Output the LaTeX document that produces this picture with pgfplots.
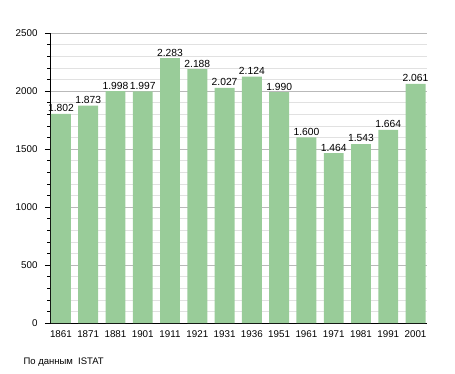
\documentclass[border=0pt]{standalone}
\usepackage{pgfplots}
\pgfplotsset{compat=1.18}
\usepackage{fontspec}
\setmainfont{Liberation Sans}
\definecolor{bargreen}{RGB}{153,204,153}
\definecolor{majgrid}{RGB}{185,185,185}
\definecolor{mingrid}{RGB}{225,225,225}
\begin{document}
\begin{tikzpicture}
\useasboundingbox (-50pt,-50pt) rectangle (405pt,323pt);
\begin{axis}[
  scale only axis,
  width=377pt, height=290pt,
  anchor=south west, at={(0,0)},
  xmin=-0.40, xmax=13.42,
  ymin=0, ymax=2500,
  axis lines=left,
  axis line style={-, black, line width=0.8pt},
  ytick={0,500,...,2500},
  minor y tick num=4,
  xtick=data,
  xticklabels={1861,1871,1881,1901,1911,1921,1931,1936,1951,1961,1971,1981,1991,2001},
  x tick style={draw=none},
  y tick style={black, line width=0.6pt},
  tick align=outside,
  major tick length=5pt,
  minor tick length=2.5pt,
  ymajorgrids, yminorgrids,
  major grid style={majgrid, line width=0.6pt},
  minor grid style={mingrid, line width=0.5pt},
  tick label style={font=\fontsize{9.8}{11}\selectfont},
  /pgf/number format/assume math mode=true,
  yticklabel style={/pgf/number format/1000 sep={}, xshift=-4pt},
  xticklabel style={yshift=1pt},
  nodes near coords,
  nodes near coords style={font=\fontsize{10.3}{11}\selectfont, /pgf/number format/1000 sep={.}, yshift=-1.5pt},
]
\addplot[ybar, bar width=0.73, fill=bargreen, draw=none] coordinates {
(0,1802) (1,1873) (2,1998) (3,1997) (4,2283) (5,2188) (6,2027) (7,2124) (8,1990) (9,1600) (10,1464) (11,1543) (12,1664) (13,2061)
};
\end{axis}
\node[anchor=west, font=\fontsize{9.5}{11}\selectfont] at (-30pt,-39pt) {По данным\ \ ISTAT};
\end{tikzpicture}
\end{document}
